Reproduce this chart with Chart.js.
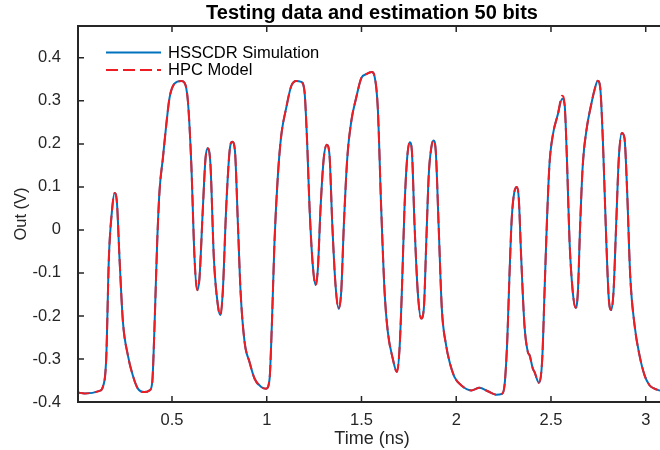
<!DOCTYPE html>
<html>
<head>
<meta charset="utf-8">
<script src="https://cdn.jsdelivr.net/npm/chart.js@4.4.1/dist/chart.umd.min.js"></script>
<style>
  html, body { margin: 0; padding: 0; background: #fff; overflow: hidden; }
  canvas { display: block; }
</style>
</head>
<body>
<canvas id="outChart" width="668" height="450"></canvas>
<script>
// time axis (ns)
const timeNs = [
  0.004, 0.039, 0.118, 0.135, 0.153, 0.167, 0.183, 0.197, 0.209, 0.223,
  0.241, 0.267, 0.293, 0.320, 0.355, 0.382, 0.396, 0.408, 0.422, 0.434,
  0.452, 0.470, 0.487, 0.513, 0.549, 0.566, 0.584, 0.602, 0.619, 0.633,
  0.645, 0.663, 0.677, 0.689, 0.703, 0.721, 0.742, 0.755, 0.768, 0.786,
  0.804, 0.818, 0.832, 0.848, 0.862, 0.883, 0.909, 0.936, 0.971, 0.997,
  1.015, 1.027, 1.041, 1.059, 1.077, 1.103, 1.129, 1.156, 1.182, 1.199,
  1.213, 1.226, 1.243, 1.258, 1.270, 1.284, 1.301, 1.317, 1.331, 1.346,
  1.363, 1.379, 1.393, 1.407, 1.425, 1.446, 1.472, 1.499, 1.525, 1.555,
  1.569, 1.586, 1.604, 1.622, 1.639, 1.665, 1.687, 1.701, 1.713, 1.727,
  1.741, 1.755, 1.766, 1.780, 1.797, 1.815, 1.829, 1.842, 1.855, 1.868,
  1.880, 1.892, 1.907, 1.924, 1.947, 1.965, 1.991, 2.026, 2.079, 2.123,
  2.167, 2.211, 2.241, 2.255, 2.269, 2.281, 2.293, 2.307, 2.320, 2.330,
  2.343, 2.360, 2.378, 2.387, 2.404, 2.413, 2.436, 2.454, 2.466, 2.478,
  2.492, 2.510, 2.536, 2.559, 2.572, 2.584, 2.598, 2.615, 2.630, 2.642,
  2.654, 2.668, 2.689, 2.712, 2.730, 2.747, 2.760, 2.774, 2.792, 2.805,
  2.818, 2.830, 2.844, 2.858, 2.874, 2.888, 2.902, 2.918, 2.941, 2.967,
  2.994, 3.020, 3.046, 3.072, 3.100
]

// HSSCDR simulation output (V)
const simOut = [
  -0.378, -0.380, -0.374, -0.365, -0.298, -0.065, 0.043, 0.086, 0.066, -0.065,
  -0.213, -0.291, -0.338, -0.369, -0.377, -0.373, -0.353, -0.221, -0.027, 0.089,
  0.167, 0.245, 0.307, 0.340, 0.346, 0.342, 0.299, 0.152, -0.066, -0.140,
  -0.112, 0.051, 0.167, 0.190, 0.152, -0.066, -0.175, -0.198, -0.144, 0.051,
  0.183, 0.205, 0.185, 0.012, -0.144, -0.260, -0.307, -0.346, -0.365, -0.369,
  -0.346, -0.221, -0.027, 0.128, 0.221, 0.284, 0.334, 0.346, 0.344, 0.323,
  0.206, 0.051, -0.082, -0.128, -0.089, 0.051, 0.167, 0.198, 0.175, 0.012,
  -0.128, -0.183, -0.144, 0.012, 0.167, 0.252, 0.307, 0.353, 0.362, 0.367,
  0.357, 0.284, 0.051, -0.144, -0.237, -0.299, -0.330, -0.275, -0.144, 0.051,
  0.167, 0.204, 0.183, 0.012, -0.144, -0.206, -0.183, -0.027, 0.128, 0.190,
  0.208, 0.183, 0.012, -0.183, -0.269, -0.307, -0.342, -0.361, -0.373, -0.367,
  -0.375, -0.383, -0.381, -0.361, -0.260, -0.105, 0.027, 0.089, 0.100, 0.074,
  -0.066, -0.221, -0.284, -0.291, -0.322, -0.330, -0.355, -0.299, -0.144, 0.012,
  0.152, 0.221, 0.268, 0.305, 0.291, 0.167, -0.027, -0.144, -0.181, -0.144,
  0.012, 0.152, 0.237, 0.291, 0.326, 0.347, 0.330, 0.206, -0.027, -0.159,
  -0.186, -0.144, 0.012, 0.167, 0.225, 0.213, 0.089, -0.105, -0.221, -0.291,
  -0.338, -0.361, -0.369, -0.373, -0.376
]

// HPC model estimate (V)
const hpcOut = [
  -0.378, -0.380, -0.374, -0.365, -0.298, -0.065, 0.043, 0.086, 0.066, -0.065,
  -0.213, -0.291, -0.338, -0.369, -0.377, -0.373, -0.353, -0.221, -0.027, 0.089,
  0.167, 0.245, 0.307, 0.340, 0.346, 0.342, 0.299, 0.152, -0.066, -0.140,
  -0.112, 0.051, 0.167, 0.190, 0.152, -0.066, -0.175, -0.198, -0.144, 0.051,
  0.183, 0.205, 0.185, 0.012, -0.144, -0.260, -0.307, -0.346, -0.365, -0.369,
  -0.346, -0.221, -0.027, 0.128, 0.221, 0.284, 0.334, 0.346, 0.344, 0.323,
  0.206, 0.051, -0.082, -0.128, -0.089, 0.051, 0.167, 0.198, 0.175, 0.012,
  -0.128, -0.183, -0.144, 0.012, 0.167, 0.252, 0.307, 0.353, 0.362, 0.367,
  0.357, 0.284, 0.051, -0.144, -0.237, -0.299, -0.330, -0.275, -0.144, 0.051,
  0.167, 0.204, 0.183, 0.012, -0.144, -0.206, -0.183, -0.027, 0.128, 0.190,
  0.208, 0.183, 0.012, -0.183, -0.269, -0.307, -0.342, -0.361, -0.373, -0.367,
  -0.375, -0.383, -0.381, -0.361, -0.260, -0.105, 0.027, 0.089, 0.100, 0.074,
  -0.066, -0.221, -0.284, -0.291, -0.322, -0.330, -0.355, -0.299, -0.144, 0.012,
  0.152, 0.221, 0.268, 0.312, 0.291, 0.167, -0.027, -0.144, -0.181, -0.144,
  0.012, 0.152, 0.237, 0.291, 0.326, 0.347, 0.330, 0.206, -0.027, -0.159,
  -0.186, -0.144, 0.012, 0.167, 0.225, 0.213, 0.089, -0.105, -0.221, -0.291,
  -0.338, -0.361, -0.369, -0.373, -0.376
]

const seriesNames = ['HSSCDR Simulation', 'HPC Model']
const xTickValues = [0.5, 1, 1.5, 2, 2.5, 3]
const xTickLabels = ['0.5', '1', '1.5', '2', '2.5', '3']
const yTickValues = [-0.4, -0.3, -0.2, -0.1, 0, 0.1, 0.2, 0.3, 0.4]
const yTickLabels = ['-0.4', '-0.3', '-0.2', '-0.1', '0', '0.1', '0.2', '0.3', '0.4']

const axisColor = '#262626'
const fontFamily = '"Liberation Sans", Arial, Helvetica, sans-serif'

const toPoints = ys => timeNs.map((t, i) => ({ x: t, y: ys[i] }))

// matlab style box: frame on all sides, ticks pointing inwards, legend top-left inside
const matlabBox = {
    id: 'matlabBox',
    afterDatasetsDraw(chart) {
        const { ctx, chartArea: a, scales } = chart
        const tickLen = 6
        ctx.save()
        ctx.strokeStyle = axisColor
        ctx.lineWidth = 1.5
        ctx.beginPath()
        scales.x.ticks.forEach(t => {
            const px = scales.x.getPixelForValue(t.value)
            ctx.moveTo(px, a.bottom); ctx.lineTo(px, a.bottom - tickLen)
            ctx.moveTo(px, a.top); ctx.lineTo(px, a.top + tickLen)
        })
        scales.y.ticks.forEach(t => {
            const py = scales.y.getPixelForValue(t.value)
            ctx.moveTo(a.left, py); ctx.lineTo(a.left + tickLen, py)
            ctx.moveTo(a.right, py); ctx.lineTo(a.right - tickLen, py)
        })
        ctx.stroke()
        ctx.lineWidth = 2
        ctx.strokeRect(a.left, a.top, a.right - a.left, a.bottom - a.top)

        // legend
        const lx = a.left + 28
        chart.data.datasets.forEach((ds, i) => {
            const y = a.top + 26.5 + i * 17.5
            ctx.setLineDash(ds.borderDash || [])
            ctx.strokeStyle = ds.borderColor
            ctx.lineWidth = ds.borderWidth
            ctx.beginPath()
            ctx.moveTo(lx, y); ctx.lineTo(lx + 55, y)
            ctx.stroke()
            ctx.setLineDash([])
            ctx.fillStyle = '#000'
            ctx.font = '16.5px ' + fontFamily
            ctx.textBaseline = 'middle'
            ctx.textAlign = 'left'
            ctx.fillText(ds.label, lx + 62, y + 0.5)
        })
        ctx.restore()
    }
}

const ctx = document.getElementById('outChart').getContext('2d')

const outChart = new Chart(ctx, {
    type: 'line',
    data: {
        datasets: [
            {
                label: seriesNames[0],
                data: toPoints(simOut),
                borderColor: '#0072BD',
                borderWidth: 2,
                pointRadius: 0,
                cubicInterpolationMode: 'monotone',
                order: 2
            },
            {
                label: seriesNames[1],
                data: toPoints(hpcOut),
                borderColor: '#EE1D23',
                borderWidth: 2,
                borderDash: [12, 5],
                pointRadius: 0,
                cubicInterpolationMode: 'monotone',
                order: 1
            }
        ]
    },
    options: {
        responsive: false,
        animation: false,
        devicePixelRatio: 1,
        events: [],
        layout: { padding: { left: 0, right: 2, top: 0, bottom: 0 } },
        scales: {
            x: {
                type: 'linear',
                min: 0.004,
                max: 3.107,
                afterBuildTicks: scale => { scale.ticks = xTickValues.map(v => ({ value: v })) },
                afterFit: scale => { scale.height = 48 },
                grid: { display: false },
                border: { display: false },
                ticks: {
                    padding: 1,
                    color: axisColor,
                    maxRotation: 0,
                    autoSkip: false,
                    font: { family: fontFamily, size: 16.5 },
                    callback: (v, i) => xTickLabels[i]
                },
                title: {
                    display: true,
                    text: 'Time (ns)',
                    color: axisColor,
                    font: { family: fontFamily, size: 18 },
                    padding: { top: 0, bottom: 0 }
                }
            },
            y: {
                min: -0.4,
                max: 0.474,
                afterBuildTicks: scale => { scale.ticks = yTickValues.map(v => ({ value: v })) },
                afterFit: scale => { scale.width = 78 },
                grid: { display: false },
                border: { display: false },
                ticks: {
                    padding: 9,
                    color: axisColor,
                    autoSkip: false,
                    font: { family: fontFamily, size: 16.5 },
                    callback: (v, i) => yTickLabels[i]
                },
                title: {
                    display: true,
                    text: 'Out (V)',
                    color: axisColor,
                    font: { family: fontFamily, size: 16.5 },
                    padding: { top: 12, bottom: 0 }
                }
            }
        },
        plugins: {
            legend: { display: false },
            tooltip: { enabled: false },
            title: {
                display: true,
                fullSize: false,
                text: 'Testing data and estimation 50 bits',
                color: '#000',
                font: { family: fontFamily, size: 20, weight: 'bold', lineHeight: 1.2 },
                padding: { top: 1, bottom: 1 }
            }
        }
    },
    plugins: [matlabBox]
})
</script>
</body>
</html>
